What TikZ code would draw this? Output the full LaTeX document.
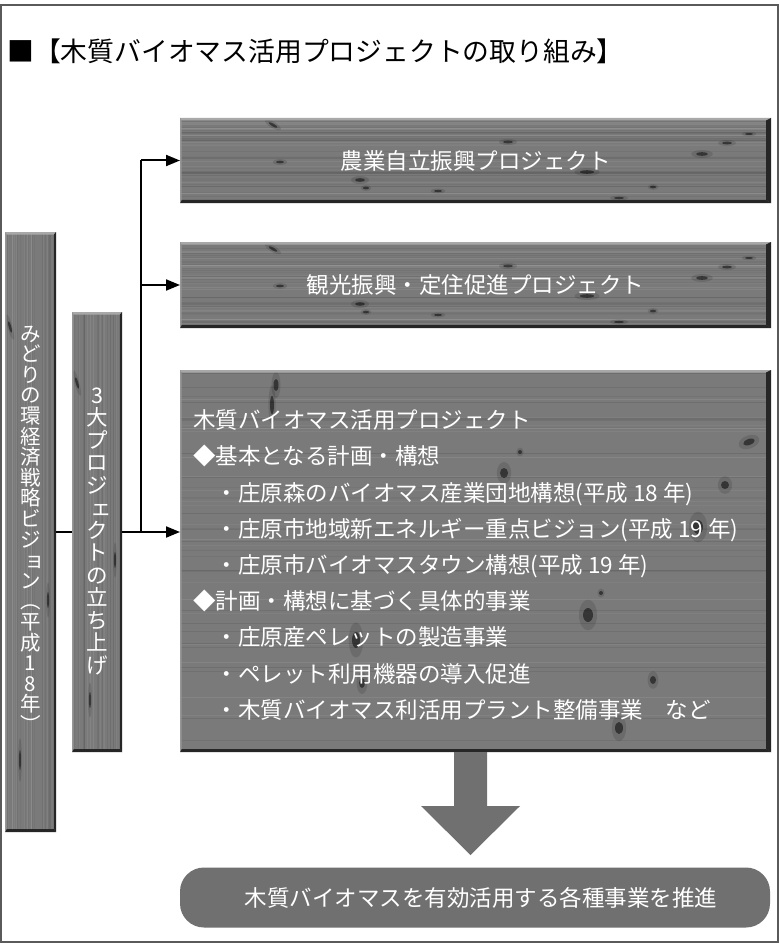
\documentclass[tikz,border=0pt]{standalone}
\usepackage{fontspec}
\setmainfont{Noto Sans CJK JP}
\usetikzlibrary{arrows.meta,calc}
\definecolor{woodbase}{HTML}{7A7A7A}
\definecolor{woodlight}{HTML}{A8A8A8}
\definecolor{wooddark}{HTML}{262626}
\definecolor{flatgray}{HTML}{707070}
\definecolor{framegray}{HTML}{5A5A5A}

% wood panel with horizontal grain
\newcommand{\woodh}[4]{%
\begin{scope}
\clip (#1,#2) rectangle (#3,#4);
\fill[woodbase] (#1,#2) rectangle (#3,#4);
\foreach \i in {1,...,30}{
 \pgfmathsetmacro\yy{#2+rnd*(#4-#2)}
 \pgfmathsetmacro\ww{0.3+rnd*1.0}
 \pgfmathsetmacro\oo{0.03+rnd*0.07}
 \draw[black, opacity=\oo, line width=\ww] (#1,\yy) -- (#3,\yy);
}
\foreach \i in {1,...,22}{
 \pgfmathsetmacro\yy{#2+rnd*(#4-#2)}
 \pgfmathsetmacro\ww{0.3+rnd*0.9}
 \pgfmathsetmacro\oo{0.03+rnd*0.06}
 \draw[white, opacity=\oo, line width=\ww] (#1,\yy) -- (#3,\yy);
}
\end{scope}}
% wood panel with vertical grain
\newcommand{\woodv}[4]{%
\begin{scope}
\clip (#1,#2) rectangle (#3,#4);
\fill[woodbase] (#1,#2) rectangle (#3,#4);
\foreach \i in {1,...,16}{
 \pgfmathsetmacro\xx{#1+rnd*(#3-#1)}
 \pgfmathsetmacro\ww{0.3+rnd*1.0}
 \pgfmathsetmacro\oo{0.03+rnd*0.07}
 \draw[black, opacity=\oo, line width=\ww] (\xx,#2) -- (\xx,#4);
}
\foreach \i in {1,...,12}{
 \pgfmathsetmacro\xx{#1+rnd*(#3-#1)}
 \pgfmathsetmacro\ww{0.3+rnd*0.9}
 \pgfmathsetmacro\oo{0.03+rnd*0.06}
 \draw[white, opacity=\oo, line width=\ww] (\xx,#2) -- (\xx,#4);
}
\end{scope}}
% bevelled edges: x1 y1 x2 y2 rightwidth
\newcommand{\woodedge}[5]{%
\fill[woodlight] (#1,#2) -- (#3,#2) -- (#3-#5,#2+2.5) -- (#1+1.5,#2+2.5) -- cycle;
\fill[wooddark] (#3,#2) -- (#3,#4) -- (#3-#5,#4-3) -- (#3-#5,#2+2.5) -- cycle;
\fill[wooddark] (#1,#4) -- (#3,#4) -- (#3-#5,#4-3) -- (#1+1.5,#4-3) -- cycle;
\fill[woodlight!60!woodbase] (#1,#2) -- (#1+1.5,#2+2.5) -- (#1+1.5,#4-3) -- (#1,#4) -- cycle;}
% knot: x y rx ry angle
\newcommand{\knot}[5]{%
\fill[black, opacity=0.12, rotate around={#5:(#1,#2)}] (#1,#2) ellipse [x radius=#3*1.8, y radius=#4*2.2];
\fill[black, opacity=0.5, rotate around={#5:(#1,#2)}] (#1,#2) ellipse [x radius=#3, y radius=#4];}
% small kana in vertical writing: shifted right
\newcommand{\smallv}[1]{\kern0.2em#1\kern-0.2em}

\tikzset{
  panel/.style={inner sep=0pt, outer sep=0pt, text=white, font=\fontsize{22.5}{27}\selectfont},
  vpanel/.style={inner sep=0pt, outer sep=0pt},
  vtext/.style={inner sep=0pt, align=center, text=white},
  conn/.style={draw=black, line width=2pt},
  connarrow/.style={conn, -{Triangle[length=14pt,width=11pt]}},
}

\begin{document}
\begin{tikzpicture}[x=1pt,y=-1pt]
\pgfmathsetseed{7}
\useasboundingbox (0,0) rectangle (779,944);
\fill[white] (0,0) rectangle (779,944);
\draw[framegray, line width=1.8pt] (0.9,5) rectangle (778,942);

% title
\node[anchor=west, inner sep=0pt, font=\fontsize{26.8}{30}\selectfont] (title) at (7,51) {■【木質バイオマス活用プロジェクトの取り組み】};

% ---- box 1
\woodh{180}{118}{771}{203}
\knot{273}{125}{5}{1.4}{-30}\knot{280}{162}{4}{1.3}{0}\knot{508}{142}{5}{1.4}{0}
\knot{360}{180}{5}{1.8}{0}\knot{366}{188}{3}{1.3}{0}\knot{438}{191}{4}{1.1}{0}
\knot{587}{172}{7}{1.8}{0}\knot{619}{198}{5}{1.1}{0}\knot{653}{187}{3}{1.3}{0}
\knot{702}{154}{6}{1.8}{0}\knot{727}{143}{5}{1.4}{0}\knot{749}{134}{4}{1}{0}
\woodedge{180}{118}{771}{203}{5}
\node[panel, minimum width=591pt, minimum height=85pt] (b1) at (475.5,160.5) {農業自立振興プロジェクト};

% ---- box 2
\woodh{180}{242}{771}{328}
\knot{273}{249}{5}{1.4}{-30}\knot{280}{286}{4}{1.3}{0}\knot{508}{266}{5}{1.4}{0}
\knot{360}{304}{5}{1.8}{0}\knot{366}{312}{3}{1.3}{0}\knot{438}{315}{4}{1.1}{0}
\knot{587}{296}{7}{1.8}{0}\knot{619}{322}{5}{1.1}{0}\knot{653}{311}{3}{1.3}{0}
\knot{702}{278}{6}{1.8}{0}\knot{727}{267}{5}{1.4}{0}\knot{749}{258}{4}{1}{0}
\woodedge{180}{242}{771}{328}{5}
\node[panel, minimum width=591pt, minimum height=86pt] (b2) at (475.5,285) {観光振興・定住促進プロジェクト};

% ---- box 3
\woodh{180}{370}{771}{752}
\knot{276}{385}{2.5}{6}{0}\knot{272}{405}{2}{9}{0}
\knot{504}{473}{4}{5}{0}\knot{725}{485}{4}{4}{0}\knot{749}{442}{6}{3}{20}
\knot{698}{527}{5}{7}{0}\knot{601}{593}{2}{2}{0}\knot{588}{615}{5}{7}{0}
\knot{356}{640}{4}{8}{0}\knot{362}{683}{3}{5}{0}\knot{653}{680}{3}{4}{0}
\knot{619}{728}{4}{6}{0}\knot{520}{452}{2}{2}{0}
\woodedge{180}{370}{771}{752}{5}
\node[vpanel, minimum width=591pt, minimum height=382pt] (b3) at (475.5,561) {};
\node[anchor=west, align=left, inner sep=0pt, text=white, font=\fontsize{22.5}{36.2}\selectfont] (b3text) at (193,565) {%
木質バイオマス活用プロジェクト\\
◆基本となる計画・構想\\
　・庄原森のバイオマス産業団地構想(平成 18 年)\\
　・庄原市地域新エネルギー重点ビジョン(平成 19 年)\\
　・庄原市バイオマスタウン構想(平成 19 年)\\
◆計画・構想に基づく具体的事業\\
　・庄原産ペレットの製造事業\\
　・ペレット利用機器の導入促進\\
　・木質バイオマス利活用プラント整備事業　など};

% ---- left vertical boxes
\woodv{5}{232}{56}{832}
\knot{10}{327}{1.3}{6}{15}\knot{48}{600}{1}{8}{0}\knot{20}{760}{1}{10}{0}
\woodedge{5}{232}{56}{832}{2}
\node[vpanel, minimum width=51pt, minimum height=600pt] (l1) at (30.5,532) {};
\node[vtext, font=\fontsize{20.5}{20.6}\selectfont] (l1text) at (30.5,529) {み\\ど\\り\\の\\環\\経\\済\\戦\\略\\ビ\\ジ\\\smallv{ョ}\\ン\\︵\\平\\成\\1\\8\\年\\︶};

\woodv{72}{312}{122}{752}
\knot{77}{383}{1.3}{6}{15}\knot{115}{560}{1}{8}{0}\knot{90}{700}{1}{8}{0}
\woodedge{72}{312}{122}{752}{2}
\node[vpanel, minimum width=50pt, minimum height=440pt] (l2) at (97,532) {};
\node[vtext, font=\fontsize{21.5}{22.5}\selectfont] (l2text) at (97,531) {3\\大\\プ\\ロ\\ジ\\\smallv{ェ}\\ク\\ト\\の\\立\\ち\\上\\げ};

% ---- connectors
\coordinate (jv) at (141,532);
\draw[conn] (l1.east) -- (l2.west);
\draw[conn] (l2.east) -- (jv) -- (jv |- b1.west);
\draw[connarrow] (jv |- b1.west) -- (b1.west);
\draw[connarrow] (jv |- b2.west) -- (b2.west);
\draw[connarrow] (jv) -- (jv -| b3.west);

% ---- big down arrow
\fill[flatgray] (454,752) -- (487,752) -- (487,806) -- (520,806) -- (470.5,855) -- (421,806) -- (454,806) -- cycle;

% ---- result
\node[fill=flatgray, rounded corners=24pt, minimum width=590pt, minimum height=60pt, inner sep=0pt, text=white, font=\fontsize{22.5}{27}\selectfont] (fin) at (475,897.5) {\hspace{12pt}木質バイオマスを有効活用する各種事業を推進};
\end{tikzpicture}
\end{document}
